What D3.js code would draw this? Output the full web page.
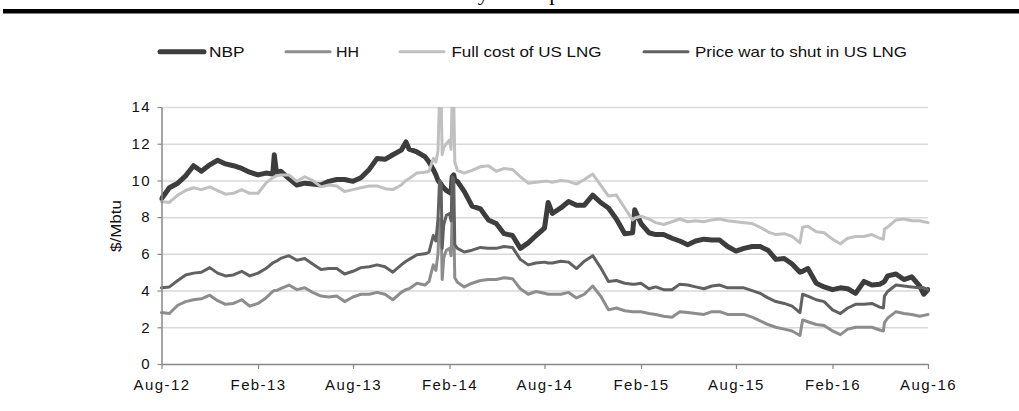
<!DOCTYPE html>
<html>
<head>
<meta charset="utf-8">
<script src="https://d3js.org/d3.v7.min.js"></script>
<style>
  body { margin: 0; background: #fff; }
  svg { display: block; }
</style>
</head>
<body>
<div id="chart"></div>
<script>
// values: roughly twice a month, plus a few extra days around the jumps
var dates = [
  "2012-08-01","2012-08-16","2012-09-01","2012-09-16","2012-10-01","2012-10-16","2012-11-01","2012-11-16",
  "2012-12-01","2012-12-16","2013-01-01","2013-01-16","2013-02-01","2013-02-16","2013-03-01","2013-03-04",
  "2013-03-08","2013-03-16","2013-04-01","2013-04-16","2013-05-01","2013-05-16","2013-06-01","2013-06-16",
  "2013-07-01","2013-07-16","2013-08-01","2013-08-16","2013-09-01","2013-09-16","2013-10-01","2013-10-16",
  "2013-11-01","2013-11-10","2013-11-16","2013-12-01","2013-12-16","2013-12-24","2014-01-01","2014-01-06",
  "2014-01-10","2014-01-13","2014-01-16","2014-01-18","2014-01-21","2014-01-26","2014-02-01","2014-02-04",
  "2014-02-06","2014-02-09","2014-02-11","2014-02-16","2014-03-01","2014-03-16","2014-04-01","2014-04-16",
  "2014-05-01","2014-05-16","2014-06-01","2014-06-16","2014-07-01","2014-07-16","2014-08-01","2014-08-08",
  "2014-08-16","2014-09-01","2014-09-16","2014-10-01","2014-10-16","2014-11-01","2014-11-16","2014-12-01",
  "2014-12-16","2015-01-01","2015-01-16","2015-01-20","2015-02-01","2015-02-16","2015-03-01","2015-03-16",
  "2015-04-01","2015-04-16","2015-05-01","2015-05-16","2015-06-01","2015-06-16","2015-07-01","2015-07-16",
  "2015-08-01","2015-08-16","2015-09-01","2015-09-16","2015-10-01","2015-10-16","2015-11-01","2015-11-16",
  "2015-12-01","2015-12-06","2015-12-16","2016-01-01","2016-01-16","2016-02-01","2016-02-16","2016-03-01",
  "2016-03-16","2016-04-01","2016-04-16","2016-05-01","2016-05-08","2016-05-10","2016-05-16","2016-06-01",
  "2016-06-16","2016-07-01","2016-07-16","2016-07-24","2016-08-01"
];

var nbp = [
  9.0, 9.6, 9.85, 10.25, 10.8, 10.5, 10.85, 11.1,
  10.9, 10.8, 10.65, 10.45, 10.3, 10.4, 10.35, 11.4,
  10.45, 10.5, 10.1, 9.75, 9.85, 9.8, 9.75, 9.95,
  10.05, 10.05, 9.95, 10.15, 10.6, 11.2, 11.15, 11.4,
  11.65, 12.1, 11.7, 11.55, 11.3, 11.0, 10.6, 10.3,
  10.0, 9.9, 9.8, 9.7, 9.6, 9.45, 9.35, 9.3,
  10.2, 10.3, 10.0, 9.95, 9.4, 8.6, 8.45, 7.85,
  7.65, 7.1, 7.0, 6.3, 6.6, 7.0, 7.4, 8.8,
  8.2, 8.5, 8.85, 8.65, 8.65, 9.2, 8.8, 8.5,
  7.9, 7.1, 7.15, 8.4, 7.65, 7.15, 7.05, 7.05,
  6.85, 6.7, 6.5, 6.7, 6.8, 6.75, 6.75, 6.4,
  6.15, 6.3, 6.4, 6.4, 6.2, 5.7, 5.75, 5.45,
  5.0, 5.05, 5.2, 4.4, 4.2, 4.05, 4.15, 4.1,
  3.85, 4.5, 4.3, 4.35, 4.45, 4.5, 4.8, 4.9,
  4.6, 4.75, 4.25, 3.8, 4.05
];

var hh = [
  2.8, 2.75, 3.2, 3.4, 3.5, 3.55, 3.75, 3.45,
  3.25, 3.3, 3.5, 3.15, 3.3, 3.6, 3.95, 4.0,
  4.0, 4.1, 4.3, 4.05, 4.15, 3.9, 3.7, 3.65,
  3.7, 3.4, 3.65, 3.8, 3.8, 3.9, 3.8, 3.5,
  3.9, 4.05, 4.1, 4.4, 4.3, 4.5, 5.4, 5.1,
  6.0, 7.9, 7.8, 4.6, 5.8, 6.2, 6.3, 5.9,
  8.0, 7.9, 4.7, 4.45, 4.2, 4.4, 4.55, 4.6,
  4.6, 4.7, 4.65, 4.1, 3.8, 3.95, 3.85, 3.8,
  3.8, 3.8, 3.9, 3.6, 3.8, 4.25, 3.7, 2.95,
  3.05, 2.9, 2.85, 2.85, 2.85, 2.75, 2.7, 2.6,
  2.55, 2.85, 2.8, 2.75, 2.7, 2.85, 2.85, 2.7,
  2.7, 2.7, 2.55, 2.35, 2.15, 2.0, 1.9, 1.8,
  1.55, 2.4, 2.3, 2.15, 2.1, 1.8, 1.6, 1.9,
  2.0, 2.0, 2.0, 1.85, 1.8, 2.25, 2.5, 2.85,
  2.75, 2.7, 2.6, 2.65, 2.7
];

var fullCost = [
  8.85, 8.8, 9.2, 9.45, 9.6, 9.5, 9.65, 9.45,
  9.25, 9.3, 9.5, 9.3, 9.3, 9.85, 10.15, 10.2,
  10.25, 10.3, 10.3, 9.95, 10.2, 10.0, 9.65, 9.75,
  9.7, 9.4, 9.5, 9.6, 9.7, 9.7, 9.55, 9.5,
  9.75, 10.0, 10.1, 10.4, 10.45, 10.5, 11.2, 11.0,
  11.6, 14.6, 14.6, 11.4, 11.8, 12.0, 12.2, 11.7,
  14.6, 14.6, 11.0, 10.55, 10.4, 10.55, 10.75, 10.8,
  10.5, 10.65, 10.6, 10.2, 9.85, 9.9, 9.95, 9.95,
  9.9, 10.0, 9.95, 9.8, 10.05, 10.35, 9.75, 9.15,
  9.2, 8.5, 7.85, 7.95, 8.05, 7.9, 7.7, 7.6,
  7.75, 7.9, 7.75, 7.8, 7.75, 7.85, 7.9, 7.8,
  7.75, 7.7, 7.65, 7.45, 7.2, 7.05, 7.1, 6.95,
  6.6, 7.45, 7.5, 7.2, 7.15, 6.8, 6.55, 6.85,
  6.95, 6.95, 7.05, 6.85, 6.8, 7.35, 7.45, 7.85,
  7.9, 7.8, 7.8, 7.75, 7.7
];

var priceWar = [
  4.15, 4.2, 4.55, 4.85, 4.95, 5.0, 5.25, 4.95,
  4.8, 4.85, 5.05, 4.8, 4.95, 5.2, 5.5, 5.55,
  5.6, 5.75, 5.9, 5.65, 5.75, 5.45, 5.15, 5.2,
  5.2, 4.9, 5.05, 5.25, 5.3, 5.4, 5.3, 5.0,
  5.4, 5.6, 5.7, 5.95, 6.0, 6.1, 7.0, 6.7,
  7.9, 10.0, 9.8, 6.3, 7.6, 8.1, 8.2, 7.8,
  10.2, 10.1, 6.5, 6.3, 6.1, 6.2, 6.35, 6.3,
  6.3, 6.4, 6.35, 5.7, 5.4, 5.5, 5.55, 5.5,
  5.5, 5.6, 5.55, 5.2, 5.6, 5.9, 5.25, 4.5,
  4.55, 4.4, 4.35, 4.35, 4.4, 4.1, 4.2, 4.05,
  4.05, 4.35, 4.3, 4.2, 4.1, 4.25, 4.3, 4.15,
  4.15, 4.15, 4.0, 3.85, 3.6, 3.4, 3.3, 3.15,
  2.8, 3.8, 3.7, 3.5, 3.4, 2.95, 2.75, 3.05,
  3.25, 3.25, 3.3, 3.1, 3.05, 3.7, 3.95, 4.3,
  4.25, 4.2, 4.15, 4.15, 4.05
];

var seriesNames = ["NBP", "HH", "Full cost of US LNG", "Price war to shut in US LNG"];
var yTicks = [0, 2, 4, 6, 8, 10, 12, 14];
var xTicks = ["2012-08-01", "2013-02-01", "2013-08-01", "2014-02-01", "2014-08-01",
              "2015-02-01", "2015-08-01", "2016-02-01", "2016-08-01"];

// look of each series (same order as seriesNames)
var colors = ["#3d3d3d", "#8d8d8d", "#c0c0c0", "#616161"];
var widths = [5, 3, 3, 3];

var parse = d3.timeParse("%Y-%m-%d");
var allValues = [nbp, hh, fullCost, priceWar];
var series = seriesNames.map(function (name, s) {
    return {
        name: name,
        color: colors[s],
        width: widths[s],
        values: dates.map(function (d, i) {
            return { date: parse(d), value: allValues[s][i] };
        })
    };
});

// set the dimensions and margins of the graph
var margin = { top: 107, right: 91, bottom: 47, left: 161.5 },
    width = 1019 - margin.left - margin.right,
    height = 411 - margin.top - margin.bottom;

var root = d3
    .select("#chart")
    .append("svg")
    .attr("width", 1019)
    .attr("height", 411);

// thick rule across the top and the cut off heading above it
root.append("text")
    .attr("x", 452)
    .attr("y", 0)
    .style("font-family", "'Liberation Serif', 'Times New Roman', serif")
    .style("font-size", "22px")
    .style("fill", "#000")
    .text("Key assumptions");

root.append("rect")
    .attr("x", 3)
    .attr("y", 9)
    .attr("width", 1016)
    .attr("height", 4.5)
    .style("fill", "#000");

var svg = root
    .append("g")
    .attr("transform", "translate(" + margin.left + "," + margin.top + ")");

var x = d3
    .scaleTime()
    .domain([parse(xTicks[0]), parse(xTicks[xTicks.length - 1])])
    .range([0, width]);

var y = d3.scaleLinear().domain([0, 14]).range([height, 0]);

var tickFont = "'Liberation Sans', Arial, sans-serif";

// horizontal gridlines
var grid = svg
    .append("g")
    .call(d3.axisLeft(y).tickValues(yTicks.slice(1)).tickSize(-width).tickFormat(""));
grid.select(".domain").remove();
grid.selectAll("line").style("stroke", "#d9d9d9").style("stroke-width", 1.5);

// clip the lines at the top of the plot
svg.append("clipPath")
    .attr("id", "plot-clip")
    .append("rect")
    .attr("x", -2)
    .attr("y", 0)
    .attr("width", width + 4)
    .attr("height", height);

var line = d3
    .line()
    .x(function (d) { return x(d.date); })
    .y(function (d) { return y(d.value); });

svg.append("g")
    .attr("clip-path", "url(#plot-clip)")
    .selectAll("path")
    .data(series)
    .enter()
    .append("path")
    .attr("d", function (d) { return line(d.values); })
    .style("fill", "none")
    .style("stroke", function (d) { return d.color; })
    .style("stroke-width", function (d) { return d.width; })
    .style("stroke-linejoin", "round")
    .style("stroke-linecap", "round");

// Y axis
var yAxis = svg
    .append("g")
    .call(d3.axisLeft(y).tickValues(yTicks).tickSize(4).tickSizeOuter(0).tickPadding(6.5));
yAxis.select(".domain").style("stroke", "#878787").style("stroke-width", 1.5);
yAxis.selectAll("line").style("stroke", "#878787").style("stroke-width", 1.2);
yAxis.selectAll("text")
    .style("font-family", tickFont)
    .style("font-size", "15px")
    .style("letter-spacing", "1.4px")
    .style("fill", "#111");

// X axis
var xAxis = svg
    .append("g")
    .attr("transform", "translate(0," + height + ")")
    .call(
        d3.axisBottom(x)
            .tickValues(xTicks.map(parse))
            .tickFormat(d3.timeFormat("%b-%y"))
            .tickSize(5)
            .tickSizeOuter(0)
            .tickPadding(10)
    );
xAxis.select(".domain").style("stroke", "#878787").style("stroke-width", 1.5);
xAxis.selectAll("line").style("stroke", "#878787").style("stroke-width", 1.2);
xAxis.selectAll("text")
    .style("font-family", tickFont)
    .style("font-size", "15px")
    .style("letter-spacing", "1.4px")
    .style("fill", "#111");

// y axis title
root.append("text")
    .attr("transform", "translate(120.5,226) rotate(-90)")
    .attr("text-anchor", "middle")
    .attr("textLength", 52)
    .attr("lengthAdjust", "spacingAndGlyphs")
    .style("font-family", tickFont)
    .style("font-size", "14.5px")
    .style("fill", "#111")
    .text("$/Mbtu");

// legend: swatch start, label start and label width for each entry
var legendSwatch = [158, 284, 398, 642];
var legendLabel = [209, 336, 451.5, 695];
var legendWidth = [35.5, 23, 150, 212];

var legend = root
    .selectAll("g.legend")
    .data(series)
    .enter()
    .append("g")
    .attr("class", "legend");

legend.append("line")
    .attr("x1", function (d, i) { return legendSwatch[i] + 2; })
    .attr("x2", function (d, i) { return legendSwatch[i] + 46; })
    .attr("y1", 51.7)
    .attr("y2", 51.7)
    .style("stroke", function (d) { return d.color; })
    .style("stroke-width", function (d) { return d.width; })
    .style("stroke-linecap", "round");

legend.append("text")
    .attr("x", function (d, i) { return legendLabel[i]; })
    .attr("y", 56.8)
    .attr("textLength", function (d, i) { return legendWidth[i]; })
    .attr("lengthAdjust", "spacingAndGlyphs")
    .style("font-family", tickFont)
    .style("font-size", "14.5px")
    .style("fill", "#111")
    .text(function (d) { return d.name; });
</script>
</body>
</html>
